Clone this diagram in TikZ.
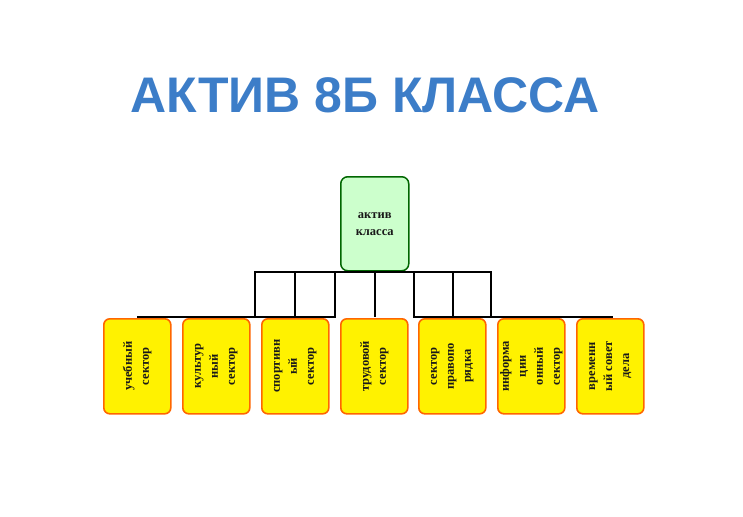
\documentclass[tikz,border=0pt]{standalone}
\usepackage{fontspec}
\setmainfont{Liberation Serif}
\newfontfamily\titlefont{Liberation Sans}
\usetikzlibrary{calc}

\begin{document}
\begin{tikzpicture}[x=1pt,y=-1pt,
    sector/.style={draw=orange!80!red,line width=1.6pt,fill=yellow,rounded corners=6pt,
        minimum width=67pt,minimum height=95pt,anchor=north west},
    sectortext/.style={rotate=90,align=center,font=\bfseries\fontsize{12.5}{17}\selectfont,text=black!90},
    link/.style={line width=1.8pt,line cap=rect}]
            \path[use as bounding box] (0,0) rectangle (743,516);

            % title
            \node (title) [text={rgb,255:red,60;green,125;blue,200},font=\titlefont\bfseries\fontsize{50}{50}\selectfont] at (365,95) {АКТИВ 8Б КЛАССА};

            % head
            \node (head) [draw=green!40!black,line width=1.5pt,fill=green!20,rounded corners=7pt,
                minimum width=68pt,minimum height=94pt,anchor=north west,align=center,
                font=\bfseries\fontsize{12.5}{17}\selectfont,text=black!90] at (340,176) {актив\\класса};

            % sectors
            \foreach \n/\x/\t in {s1/103/{учебный\\сектор},
                                  s2/182/{культур\\ный\\сектор},
                                  s3/261/{спортивн\\ый\\сектор},
                                  s4/340/{трудовой\\сектор},
                                  s5/418/{сектор\\правопо\\рядка},
                                  s6/497/{информа\\ции\\онный\\сектор},
                                  s7/576/{временн\\ый совет\\дела}} {
                \node (\n) [sector] at (\x,318) {};
                \node[sectortext] at (\n.center) {\t};
            }

            % frame of links
            \coordinate (tl) at (255,272);
            \coordinate (tr) at (491,272);
            \draw[link] (tl) -- (tr);
            \draw[link] (138,317) -- (335,317);
            \draw[link] (414,317) -- (612,317);
            \foreach \x in {255,295,335,414,453,491}
                \draw[link] (\x,272) -- (\x,317);
            \draw[link] (375,272) -- (375,316);
        \end{tikzpicture}
\end{document}
